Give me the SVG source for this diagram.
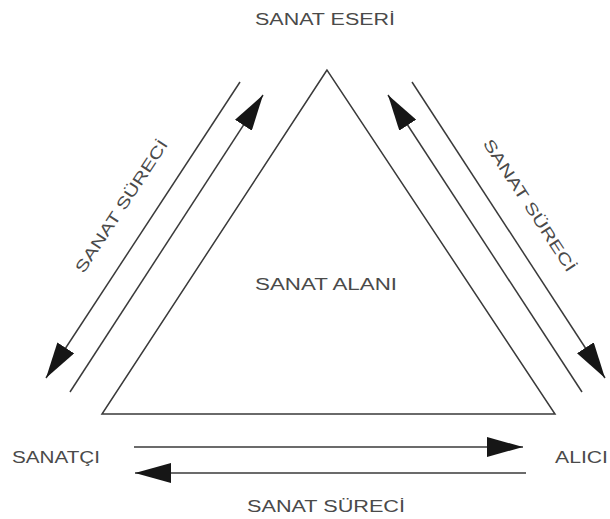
<svg xmlns="http://www.w3.org/2000/svg" width="610" height="519" viewBox="0 0 610 519">
<style>
.ln{stroke:#3a3a3a;stroke-width:1.5;fill:none}
.lbl{font-family:"Liberation Sans",Arial,sans-serif;font-size:16px;fill:#4a4a4a}
</style>
<defs>
<marker id="ah" viewBox="0 0 36 20" refX="36" refY="10" markerWidth="36" markerHeight="20" markerUnits="userSpaceOnUse" orient="auto">
<path d="M0,0 L36,10 L0,20 Z" fill="#161616"/>
</marker>
</defs>
<rect width="610" height="519" fill="#ffffff"/>
<g id="sanat-alani">
<polygon class="ln" points="327,70 102,414 555,414"/>
<text class="lbl" x="326" y="290" text-anchor="middle" textLength="142" lengthAdjust="spacingAndGlyphs">SANAT ALANI</text>
</g>
<g id="sanat-eseri">
<text class="lbl" x="325" y="25" text-anchor="middle" textLength="140" lengthAdjust="spacingAndGlyphs">SANAT ESERİ</text>
</g>
<g id="sanatci">
<text class="lbl" x="12" y="463" textLength="88" lengthAdjust="spacingAndGlyphs">SANATÇI</text>
</g>
<g id="alici">
<text class="lbl" x="555" y="463" textLength="53" lengthAdjust="spacingAndGlyphs">ALICI</text>
</g>
<g id="connectors">
<line class="ln" x1="240" y1="82" x2="46" y2="378" marker-end="url(#ah)"/>
<line class="ln" x1="70" y1="392" x2="263" y2="95" marker-end="url(#ah)"/>
<line class="ln" x1="582" y1="392" x2="388" y2="95" marker-end="url(#ah)"/>
<line class="ln" x1="412" y1="82" x2="605" y2="378" marker-end="url(#ah)"/>
<line class="ln" x1="134" y1="447" x2="523" y2="447" marker-end="url(#ah)"/>
<line class="ln" x1="526" y1="473" x2="135" y2="473" marker-end="url(#ah)"/>
<text class="lbl" transform="translate(121,206) rotate(-56.8)" x="0" y="6" text-anchor="middle" textLength="155" lengthAdjust="spacingAndGlyphs">SANAT SÜRECİ</text>
<text class="lbl" transform="translate(530,205) rotate(56.8)" x="0" y="6" text-anchor="middle" textLength="155" lengthAdjust="spacingAndGlyphs">SANAT SÜRECİ</text>
<text class="lbl" x="326" y="512" text-anchor="middle" textLength="158" lengthAdjust="spacingAndGlyphs">SANAT SÜRECİ</text>
</g>
</svg>
